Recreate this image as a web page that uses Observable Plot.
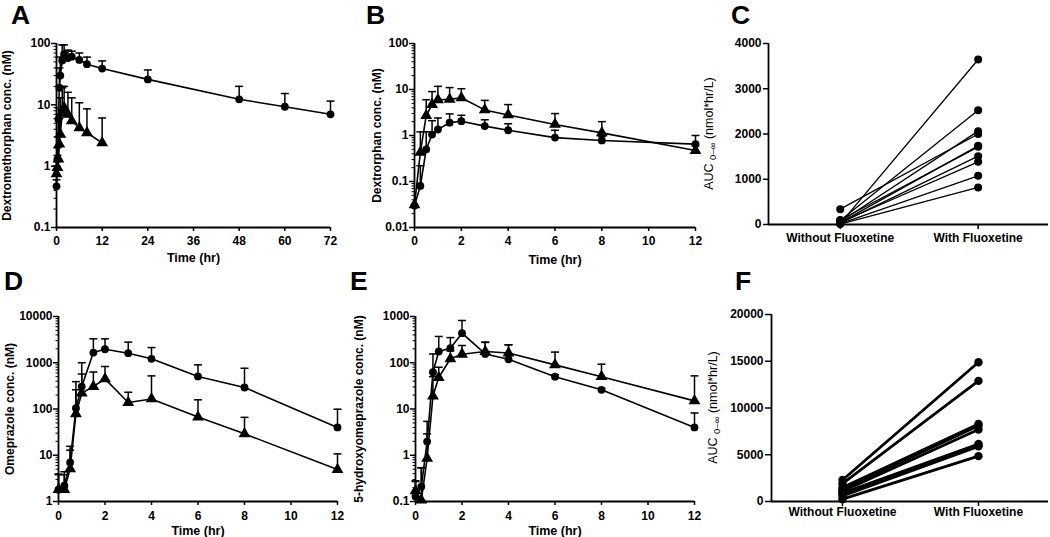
<!DOCTYPE html>
<html><head><meta charset="utf-8">
<script src="https://cdn.jsdelivr.net/npm/d3@7"></script>
<script src="https://cdn.jsdelivr.net/npm/@observablehq/plot@0.6"></script>
<style>
body{margin:0;background:#fff;}
#wrap{position:relative;width:1050px;height:537px;overflow:hidden;background:#fff;}
.panel{position:absolute;}
.panel svg{overflow:visible;}
</style></head><body><div id="wrap"></div>
<script>
// ---------- DATA ----------
const timesShort = [0, 0.25, 0.5, 0.75, 1, 1.5, 2, 3, 4, 6, 8, 12];
const timesLong = [0, 0.25, 0.5, 0.75, 1, 1.5, 2, 3, 4, 6, 8, 12, 24, 48, 60, 72];

// A: Dextromethorphan (circles = with fluoxetine, triangles = without)
const dexWith = [0.47, 1.3, 5.8, 19, 30, 53, 67, 58, 61, 54, 46, 39, 26, 12.3, 9.3, 7.0];
const dexWithUpper = [0.6, 2.0, 9, 40, 60, 95, 95, 78, 75, 70, 60, 52, 37, 20, 15.3, 11.5];
const dexWithout = [0.75, 0.95, 1.3, 2.3, 3.3, 7.5, 9, 7, 5.5, 4.2, 3.5, 2.4];
const dexWithoutUpper = [1.0, 1.5, 3.0, 6, 13, 19, 20, 16, 13, 10.8, 8.6, 6.1];

// B: Dextrorphan
const dorWith = [0.03, 0.08, 0.5, 1.05, 1.35, 1.9, 2.05, 1.6, 1.3, 0.9, 0.78, 0.65];
const dorWithUpper = [0.03, 0.22, 1.2, 2.1, 2.4, 2.95, 2.75, 2.2, 1.8, 1.3, 0.95, 1.0];
const dorWithout = [0.031, 0.43, 2.7, 4.7, 6.0, 6.1, 6.6, 3.6, 2.8, 1.74, 1.14, 0.47];
const dorWithoutUpper = [0.031, 1.2, 6.0, 9.0, 11.7, 11, 10.4, 5.8, 4.7, 3.0, 2.0, 0.6];

// D: Omeprazole
const omeWith = [1.8, 2.2, 7.0, 104, 306, 1660, 1960, 1610, 1215, 505, 292, 40];
const omeWithUpper = [3.9, 4.4, 15.6, 390, 1000, 3290, 3290, 2790, 2130, 900, 760, 99];
const omeWithout = [1.8, 1.8, 5.1, 79, 220, 306, 449, 138, 165, 67, 29, 4.9];
const omeWithoutUpper = [3.8, 3.8, 12.9, 260, 570, 630, 830, 230, 520, 158, 66, 10.7];

// E: 5-hydroxyomeprazole
const hoWith = [0.128, 0.21, 1.98, 62.5, 175, 207, 436, 155, 119, 50, 26, 4.0];
const hoWithUpper = [0.27, 0.53, 5.4, 155, 370, 350, 820, 275, 245, 55, 28, 8.2];
const hoWithout = [0.17, 0.107, 0.86, 19, 48, 122, 153, 175, 162, 90, 50, 15];
const hoWithoutUpper = [0.28, 0.54, 2.9, 50, 80, 180, 236, 280, 245, 170, 93, 52];

// C: AUC dextromethorphan per subject
const groups = ["Without Fluoxetine", "With Fluoxetine"];
const aucCWithout = [20, 339, 90, 60, 40, 100, 30, 50, 20, 10];
const aucCWith = [3646, 2000, 2527, 2063, 1738, 1716, 1510, 1385, 1075, 818];

// F: AUC omeprazole per subject
const aucFWithout = [2300, 1900, 1500, 1300, 1100, 900, 800, 600, 250];
const aucFWith = [14900, 12900, 8300, 8100, 7700, 6150, 6000, 5900, 4850];

// tick labels
const xTicksA = [0, 12, 24, 36, 48, 60, 72];
const xTicks12 = [0, 2, 4, 6, 8, 10, 12];
const yTicksA = [0.1, 1, 10, 100];
const yTicksB = [0.01, 0.1, 1, 10, 100];
const yTicksD = [1, 10, 100, 1000, 10000];
const yTicksE = [0.1, 1, 10, 100, 1000];
const yTicksC = [0, 1000, 2000, 3000, 4000];
const yTicksF = [0, 5000, 10000, 15000, 20000];

// ---------- DRAWING ----------
const FONT = '"Liberation Sans", Arial, Helvetica, sans-serif';
const wrap = document.getElementById("wrap");
const cap = {draw(ctx) { ctx.moveTo(-4, 0); ctx.lineTo(4, 0); }};

function rows(times, mean, upper) {
  return mean.map((m, i) => ({t: times[i], m, u: upper[i]}));
}
function minorTicks(major) {
  const out = [];
  for (let i = 0; i < major.length - 1; i++) for (let k = 2; k <= 9; k++) out.push(+(k * major[i]).toPrecision(6));
  return out;
}
function place(el, left, top) {
  const div = document.createElement("div");
  div.className = "panel";
  div.style.left = left + "px";
  div.style.top = top + "px";
  div.appendChild(el);
  wrap.appendChild(div);
}
const baseStyle = {fontFamily: FONT, fontSize: "12px", fontWeight: "bold", overflow: "visible", background: "transparent", color: "black"};

function pkPanel(o) {
  const circ = rows(o.timesC, o.circ, o.circU);
  const tri = rows(o.timesT, o.tri, o.triU);
  const bars = circ.concat(tri).filter(d => d.u > d.m);
  const plot = Plot.plot({
    width: o.width, height: o.height,
    marginLeft: o.mL, marginRight: o.mR, marginTop: o.mT, marginBottom: o.mB,
    style: baseStyle,
    x: {domain: o.xDomain},
    y: {type: "log", domain: o.yDomain},
    marks: [
      Plot.ruleX(bars, {x: "t", y1: "m", y2: "u", stroke: "black", strokeWidth: 1.5}),
      Plot.dot(bars, {x: "t", y: "u", symbol: cap, r: 4, stroke: "black", strokeWidth: 1.5, fill: "none"}),
      Plot.line(circ, {x: "t", y: "m", stroke: "black", strokeWidth: 1.6}),
      Plot.line(tri, {x: "t", y: "m", stroke: "black", strokeWidth: 1.6}),
      Plot.dot(circ, {x: "t", y: "m", r: 3.9, fill: "black", stroke: "none", symbol: "circle"}),
      Plot.dot(tri, {x: "t", y: "m", r: 4.4, fill: "black", stroke: "none", symbol: "triangle"}),
      Plot.axisY({ticks: minorTicks(o.yTicks), tickSize: 2.5, tickFormat: () => "", label: null, strokeWidth: 1}),
      Plot.axisY({ticks: o.yTicks, tickSize: 5, tickPadding: 1, tickFormat: d => String(d), label: null, strokeWidth: 1.5}),
      Plot.axisX({ticks: o.xTicks, tickSize: 4, tickPadding: o.xPad, tickFormat: d => String(d), label: null, strokeWidth: 1.5}),
      Plot.ruleX([o.xDomain[0]], {stroke: "black", strokeWidth: 1.8}),
      Plot.ruleY([o.yDomain[0]], {stroke: "black", strokeWidth: 1.8}),
      Plot.text([o.xLabel], {text: d => d, frameAnchor: "bottom", textAnchor: "middle", lineAnchor: "middle", dy: o.xLabelDy, fontSize: 12.5, fontWeight: "bold"}),
      Plot.text([o.yLabel], {text: d => d, frameAnchor: "left", textAnchor: "middle", lineAnchor: "middle", dx: o.yLabelDx, rotate: -90, fontSize: 12, fontWeight: "bold"})
    ]
  });
  place(plot, o.left, o.top);
}

function aucPanel(o) {
  const data = [];
  o.without.forEach((v, i) => {
    data.push({s: i, x: 0, y: v});
    data.push({s: i, x: 1, y: o.with[i]});
  });
  const plot = Plot.plot({
    width: o.width, height: o.height,
    marginLeft: o.mL, marginRight: o.mR, marginTop: o.mT, marginBottom: o.mB,
    style: baseStyle,
    x: {domain: o.xDomain},
    y: {domain: o.yDomain},
    marks: [
      Plot.line(data, {x: "x", y: "y", z: "s", stroke: "black", strokeWidth: o.lineW}),
      Plot.dot(data, {x: "x", y: "y", r: o.dotR, fill: "black", stroke: "none"}),
      Plot.axisY({ticks: o.yTicks, tickSize: o.yTickSize, tickPadding: 2, tickFormat: d => String(d), label: null, strokeWidth: 1.5}),
      Plot.axisX({ticks: [0, 1], tickSize: 5, tickPadding: o.xPad, tickFormat: i => groups[i], label: null, strokeWidth: 1.5}),
      Plot.ruleX([o.xDomain[0]], {stroke: "black", strokeWidth: 1.8}),
      Plot.ruleY([o.yDomain[0]], {stroke: "black", strokeWidth: 1.8})
    ]
  });
  // y label with subscript
  const svg = d3.select(plot);
  const cy = (o.mT + (o.height - o.mB)) / 2;
  const t = svg.append("text")
    .attr("transform", `translate(${o.labelX},${cy}) rotate(-90)`)
    .attr("text-anchor", "middle")
    .attr("font-family", FONT)
    .attr("font-size", 12.5)
    .attr("font-weight", "normal")
    .attr("fill", "black");
  t.append("tspan").text("AUC ");
  t.append("tspan").attr("font-size", 9.5).attr("dy", 3).text("0\u2013\u221E");
  t.append("tspan").attr("dy", -3).text(" (nmol*hr/L)");
  place(plot, o.left, o.top);
}

pkPanel({left: 0, top: 0, width: 350, height: 268, mL: 56, mR: 20, mT: 43, mB: 41,
  xDomain: [0, 72], yDomain: [0.1, 100], xTicks: xTicksA, yTicks: yTicksA, xPad: 5,
  timesC: timesLong, circ: dexWith, circU: dexWithUpper,
  timesT: timesShort, tri: dexWithout, triU: dexWithoutUpper,
  xLabel: "Time (hr)", xLabelDy: 30, yLabel: "Dextromethorphan conc. (nM)", yLabelDx: -49});

pkPanel({left: 350, top: 0, width: 350, height: 268, mL: 64, mR: 5, mT: 43, mB: 41,
  xDomain: [0, 12], yDomain: [0.01, 100], xTicks: xTicks12, yTicks: yTicksB, xPad: 5,
  timesC: timesShort, circ: dorWith, circU: dorWithUpper,
  timesT: timesShort, tri: dorWithout, triU: dorWithoutUpper,
  xLabel: "Time (hr)", xLabelDy: 32, yLabel: "Dextrorphan conc. (nM)", yLabelDx: -37});

pkPanel({left: 0, top: 268, width: 350, height: 269, mL: 58, mR: 13, mT: 48, mB: 36,
  xDomain: [0, 12], yDomain: [1, 10000], xTicks: xTicks12, yTicks: yTicksD, xPad: 6,
  timesC: timesShort, circ: omeWith, circU: omeWithUpper,
  timesT: timesShort, tri: omeWithout, triU: omeWithoutUpper,
  xLabel: "Time (hr)", xLabelDy: 29.5, yLabel: "Omeprazole conc. (nM)", yLabelDx: -48});

pkPanel({left: 350, top: 268, width: 350, height: 269, mL: 65, mR: 6, mT: 48, mB: 36,
  xDomain: [0, 12], yDomain: [0.1, 1000], xTicks: xTicks12, yTicks: yTicksE, xPad: 6,
  timesC: timesShort, circ: hoWith, circU: hoWithUpper,
  timesT: timesShort, tri: hoWithout, triU: hoWithoutUpper,
  xLabel: "Time (hr)", xLabelDy: 29.5, yLabel: "5-hydroxyomeprazole conc. (nM)", yLabelDx: -56});

aucPanel({left: 700, top: 0, width: 350, height: 268, mL: 68, mR: 2, mT: 43, mB: 44,
  xDomain: [-0.52, 1.51], yDomain: [0, 4000], yTicks: yTicksC, yTickSize: 5, xPad: 4,
  without: aucCWithout, with: aucCWith, lineW: 1.3, dotR: 4, labelX: 13});

aucPanel({left: 700, top: 268, width: 350, height: 269, mL: 71, mR: 2, mT: 46, mB: 36,
  xDomain: [-0.522, 1.515], yDomain: [0, 20000], yTicks: yTicksF, yTickSize: 6, xPad: 1,
  without: aucFWithout, with: aucFWith, lineW: 2.8, dotR: 4.2, labelX: 17});

// panel letters
const ns = "http://www.w3.org/2000/svg";
const over = document.createElementNS(ns, "svg");
over.setAttribute("width", 1050); over.setAttribute("height", 537);
over.style.position = "absolute"; over.style.left = "0"; over.style.top = "0"; over.style.pointerEvents = "none";
[["A", 11, 24], ["B", 366, 24], ["C", 731, 24], ["D", 4, 290], ["E", 350, 290], ["F", 735, 290]].forEach(([s, x, y]) => {
  const t = document.createElementNS(ns, "text");
  t.setAttribute("x", x); t.setAttribute("y", y);
  t.setAttribute("font-family", FONT); t.setAttribute("font-size", 26.5); t.setAttribute("font-weight", "bold");
  t.textContent = s;
  over.appendChild(t);
});
wrap.appendChild(over);
</script></body></html>
